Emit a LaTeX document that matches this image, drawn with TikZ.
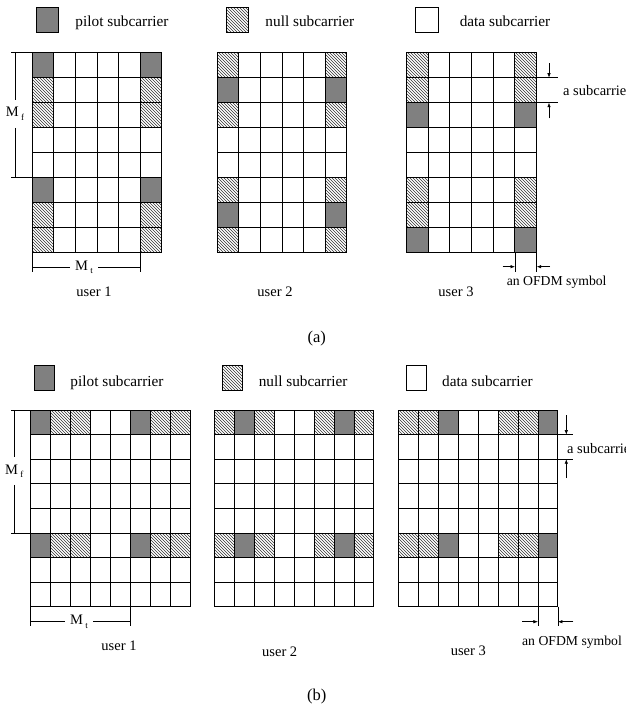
\documentclass[tikz,border=0pt]{standalone}
\usepackage{fontspec}
\setmainfont{Liberation Serif}
\usetikzlibrary{patterns}
\usetikzlibrary{arrows.meta}

\tikzset{
    pilot/.style={draw=black, fill=gray},
    null/.style={draw=black, pattern=north west lines, pattern color=black!80},
    data/.style={draw=black, fill=white},
    txt/.style={inner sep=0pt, font=\fontsize{14.5}{17}\selectfont},
    legtxt/.style={inner sep=0pt, anchor=base west, font=\fontsize{15.3}{18}\selectfont},
    dimline/.style={line width=0.6pt},
    dimarrow/.style={-{Latex[length=4.5pt,width=3.5pt]}, line width=0.6pt},
}
\newcommand{\Msub}[1]{M\,\raisebox{-3.5pt}{\fontsize{9}{9}\selectfont #1}}

\begin{document}
\begin{tikzpicture}[x=1pt, y=-1pt, line width=0.9pt]
    \useasboundingbox (0,0) rectangle (625,707);

    % (a) legend
    \path[pilot] (36,7.3) rectangle ++(22.3,25);
    \node[legtxt] (pilota) at (75,26.7) {pilot subcarrier};
    \path[null] (226,7.3) rectangle ++(22.3,25);
    \node[legtxt] (nulla) at (265,26.7) {null subcarrier};
    \path[data] (415.7,7.3) rectangle ++(22.3,25);
    \node[legtxt] (dataa) at (459.3,26.7) {data subcarrier};

    % (a) three users, pilots in the first and last OFDM symbol
    \foreach \gx/\pat in {32.3/{pilot,null,null,data,data,pilot,null,null},
                          217.3/{null,pilot,null,data,data,null,pilot,null},
                          406.7/{null,null,pilot,data,data,null,null,pilot}} {
        \foreach \s [count=\r from 0] in \pat {
            \path[\s] (\gx,52.3+\r*25.05) rectangle ++(21.6,25.05);
            \path[\s] (\gx+5*21.6,52.3+\r*25.05) rectangle ++(21.6,25.05);
        }
        \foreach \i in {0,...,6}
            \draw (\gx+\i*21.6,52.3) -- ++(0,200.4);
        \foreach \j in {0,...,8}
            \draw (\gx,52.3+\j*25.05) -- ++(129.6,0);
    }
    \node[txt, anchor=base] (user1a) at (94,296.7) {user 1};
    \node[txt, anchor=base] (user2a) at (275,296.7) {user 2};
    \node[txt, anchor=base] (user3a) at (456,296.7) {user 3};

    % (a) M_f and M_t
    \node[txt, inner ysep=7pt] (mfa) at (15,114) {\Msub{f}};
    \draw[dimline] (11,52.3) -- (32.3,52.3);
    \draw[dimline] (11,177.7) -- (32.3,177.7);
    \coordinate (mfatop) at (15,52.3);
    \coordinate (mfabot) at (15,177.7);
    \draw[dimline] (mfatop) -- (mfa) -- (mfabot);
    \node[txt, inner xsep=5pt] (mta) at (84,267.3) {\Msub{t}};
    \draw[dimline] (32.3,252.7) -- (32.3,272);
    \draw[dimline] (140,252.7) -- (140,272);
    \coordinate (mtaleft) at (32.3,267.3);
    \coordinate (mtaright) at (140,267.3);
    \draw[dimline] (mtaleft) -- (mta) -- (mtaright);

    % (a) a subcarrier
    \draw[dimline] (536.7,77.7) -- (557.7,77.7);
    \draw[dimline] (536.7,102.7) -- (557.7,102.7);
    \node[txt, anchor=base west] (suba) at (562.7,95) {a subcarrier};
    \coordinate (subatop) at (549,77.7);
    \coordinate (subabot) at (549,102.7);
    \draw[dimarrow] (549,63.3) -- (subatop);
    \draw[dimarrow] (549,118.3) -- (subabot);

    % (a) an OFDM symbol
    \draw[dimline] (515,252.7) -- (515,271.7);
    \draw[dimline] (536.7,252.7) -- (536.7,271.7);
    \node[txt, anchor=base, font=\fontsize{13.7}{16}\selectfont] (ofdma) at (556.7,285) {an OFDM symbol};
    \coordinate (ofdmaleft) at (515,266.7);
    \coordinate (ofdmaright) at (536.7,266.7);
    \draw[dimarrow] (502.7,266.7) -- (ofdmaleft);
    \draw[dimarrow] (550,266.7) -- (ofdmaright);

    \node[txt, anchor=base, font=\fontsize{16.5}{19}\selectfont] (capa) at (316.7,342.7) {(a)};

    % (b) legend
    \path[pilot] (34.3,365.7) rectangle ++(20,24.3);
    \node[legtxt] (pilotb) at (70,386.7) {pilot subcarrier};
    \path[null] (222.3,365.7) rectangle ++(20,24.3);
    \node[legtxt] (nullb) at (258.3,386.7) {null subcarrier};
    \path[data] (406,365.7) rectangle ++(20,24.3);
    \node[legtxt] (datab) at (441.7,386.7) {data subcarrier};

    % (b) three users, pilots in the first subcarrier of each group
    \foreach \gx/\pat in {30.7/{pilot,null,null,data,data,pilot,null,null},
                          214.3/{null,pilot,null,data,data,null,pilot,null},
                          398.3/{null,null,pilot,data,data,null,null,pilot}} {
        \foreach \s [count=\c from 0] in \pat {
            \path[\s] (\gx+\c*19.95,410) rectangle ++(19.95,24.6);
            \path[\s] (\gx+\c*19.95,410+5*24.6) rectangle ++(19.95,24.6);
        }
        \foreach \i in {0,...,8}
            \draw (\gx+\i*19.95,410) -- ++(0,196.8);
        \foreach \j in {0,...,8}
            \draw (\gx,410+\j*24.6) -- ++(159.6,0);
    }
    \node[txt, anchor=base] (user1b) at (119,650.7) {user 1};
    \node[txt, anchor=base] (user2b) at (279.7,656.7) {user 2};
    \node[txt, anchor=base] (user3b) at (468.3,655) {user 3};

    % (b) M_f and M_t
    \node[txt, inner ysep=7pt] (mfb) at (14.3,471) {\Msub{f}};
    \draw[dimline] (11,410) -- (30.7,410);
    \draw[dimline] (11,533) -- (30.7,533);
    \coordinate (mfbtop) at (14.3,410);
    \coordinate (mfbbot) at (14.3,533);
    \draw[dimline] (mfbtop) -- (mfb) -- (mfbbot);
    \node[txt, inner xsep=5pt] (mtb) at (79,621.7) {\Msub{t}};
    \draw[dimline] (30.7,606.7) -- (30.7,625.7);
    \draw[dimline] (130.5,606.7) -- (130.5,625.7);
    \coordinate (mtbleft) at (30.7,621.7);
    \coordinate (mtbright) at (130.5,621.7);
    \draw[dimline] (mtbleft) -- (mtb) -- (mtbright);

    % (b) a subcarrier
    \draw[dimline] (558,434.6) -- (573.3,434.6);
    \draw[dimline] (558,459.2) -- (573.3,459.2);
    \node[txt, anchor=base west] (subb) at (566.7,453.5) {a subcarrier};
    \coordinate (subbtop) at (566.3,434.6);
    \coordinate (subbbot) at (566.3,459.2);
    \draw[dimarrow] (566.3,415) -- (subbtop);
    \draw[dimarrow] (566.3,478) -- (subbbot);

    % (b) an OFDM symbol
    \draw[dimline] (537.9,606.7) -- (537.9,625.7);
    \draw[dimline] (557.9,606.7) -- (557.9,625.7);
    \node[txt, anchor=base, font=\fontsize{13.7}{16}\selectfont] (ofdmb) at (572,645) {an OFDM symbol};
    \coordinate (ofdmbleft) at (537.9,621.7);
    \coordinate (ofdmbright) at (557.9,621.7);
    \draw[dimarrow] (522.3,621.7) -- (ofdmbleft);
    \draw[dimarrow] (573.3,621.7) -- (ofdmbright);

    \node[txt, anchor=base, font=\fontsize{16.5}{19}\selectfont] (capb) at (316.7,700) {(b)};
\end{tikzpicture}
\end{document}
